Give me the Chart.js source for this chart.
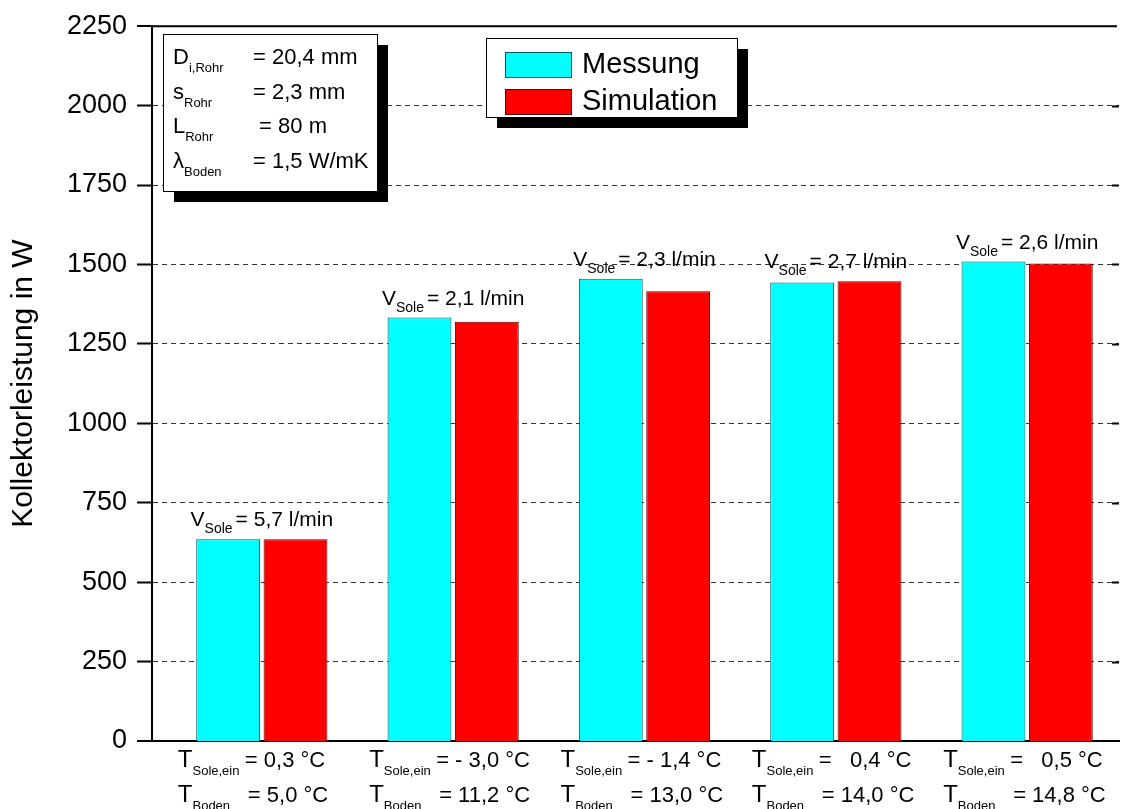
<!DOCTYPE html>
<html>
<head>
<meta charset="utf-8">
<script src="https://cdn.jsdelivr.net/npm/chart.js@4.4.0/dist/chart.umd.min.js"></script>
<style>
  html, body { margin: 0; padding: 0; background: #fff; }
  #wrap { width: 1121px; height: 809px; position: relative; }
</style>
</head>
<body>
<div id="wrap"><canvas id="bar-chart"></canvas></div>
<script>
var FONT = "'Liberation Sans', Arial, Helvetica, sans-serif";

// Messpunkte (Kategorien) und Werte in W
var kategorien = [0, 1, 2, 3, 4];
var messung = [635, 1333, 1455, 1443, 1509];
var simulation = [635, 1320, 1416, 1447, 1503];
var vSole = ['5,7', '2,1', '2,3', '2,7', '2,6'];
var tSoleEin = ['0,3', '- 3,0', '- 1,4', '  0,4', '  0,5'];
var tBoden = ['5,0', '11,2', '13,0', '14,0', '14,8'];
var yTicks = [0, 250, 500, 750, 1000, 1250, 1500, 1750, 2000, 2250];
var rohrDaten = [
  ['D', 'i,Rohr', '= 20,4 mm'],
  ['s', 'Rohr', '= 2,3 mm'],
  ['L', 'Rohr', ' = 80 m'],
  ['\u03bb', 'Boden', '= 1,5 W/mK']
];

function f(size) { return size + 'px ' + FONT; }

// Text mit Tiefstellung: [text, fontsize, dy, gapAfter, festesX]
function segmente(ctx, x, y, segs) {
  var cx = x;
  segs.forEach(function(s) {
    ctx.font = f(s[1]);
    if (s[4] !== undefined) cx = x + s[4];
    ctx.fillText(s[0], cx, y + (s[2] || 0));
    cx += ctx.measureText(s[0]).width + (s[3] || 0);
  });
}
function segBreite(ctx, segs) {
  var w = 0;
  segs.forEach(function(s) {
    ctx.font = f(s[1]);
    w += ctx.measureText(s[0]).width + (s[3] || 0);
  });
  return w;
}

function boxMitSchatten(ctx, x, y, w, h) {
  ctx.fillStyle = '#000';
  ctx.fillRect(x + 11, y + 11, w, h);
  ctx.fillStyle = '#fff';
  ctx.fillRect(x, y, w, h);
  ctx.strokeStyle = '#000';
  ctx.lineWidth = 1;
  ctx.strokeRect(x + 0.5, y + 0.5, w, h);
}

var extras = {
  id: 'extras',
  afterDraw: function(chart) {
    var ctx = chart.ctx;
    var area = chart.chartArea;
    var xs = chart.scales.x, ys = chart.scales.y;
    ctx.save();

    // Rahmen oben + Ticks rechts
    ctx.strokeStyle = '#000';
    ctx.lineWidth = 2;
    ctx.beginPath();
    ctx.moveTo(area.left - 1, area.top);
    ctx.lineTo(area.right - 2, area.top);
    yTicks.forEach(function(v) {
      if (v === 0 || v === 2250) return;
      var py = Math.round(ys.getPixelForValue(v)) + 0.5;
      ctx.moveTo(area.right - 7, py);
      ctx.lineTo(area.right, py);
    });
    ctx.stroke();

    ctx.fillStyle = '#000';
    ctx.textBaseline = 'alphabetic';
    ctx.textAlign = 'left';

    kategorien.forEach(function(k, i) {
      var cx = xs.getPixelForValue(k);
      // V_Sole ueber den Balken
      var top = ys.getPixelForValue(Math.max(messung[i], simulation[i]));
      var segs = [['V', 21, 0, 0], ['Sole', 14, 7, 3], ['= ' + vSole[i] + ' l/min', 21, 0, 0]];
      var w = segBreite(ctx, segs);
      segmente(ctx, cx - w / 2, top - 13, segs);

      // Temperaturen unter der Achse
      var tx = cx - 84;
      segmente(ctx, tx, 767, [['T', 24, 0, 0], ['Sole,ein', 13, 8, 0], ['= ' + tSoleEin[i] + ' \u00b0C', 22, 0, 0, 67]]);
      segmente(ctx, tx, 802, [['T', 24, 0, 0], ['Boden', 13, 8, 0], ['= ' + tBoden[i] + ' \u00b0C', 22, 0, 0, 70]]);
    });

    // Rohrdaten-Box
    boxMitSchatten(ctx, 163, 34, 214, 157);
    ctx.fillStyle = '#000';
    rohrDaten.forEach(function(r, j) {
      var by = 64 + j * 34.7;
      segmente(ctx, 173, by, [[r[0], 22, 0, 0], [r[1], 13, 8, 0], [r[2], 22, 0, 0, 80]]);
    });

    // Legende
    boxMitSchatten(ctx, 486, 38, 251, 79);
    chart.data.datasets.forEach(function(ds, j) {
      var sy = 52 + j * 37;
      ctx.fillStyle = ds.backgroundColor;
      ctx.fillRect(505, sy, 66, 25);
      ctx.strokeStyle = ds.borderColor;
      ctx.lineWidth = 1;
      ctx.strokeRect(505.5, sy + 0.5, 66, 25);
      ctx.fillStyle = '#000';
      ctx.font = f(29);
      ctx.textBaseline = 'middle';
      ctx.fillText(ds.label, 582, sy + 13);
      ctx.textBaseline = 'alphabetic';
    });
    ctx.restore();
  }
};

new Chart(document.getElementById('bar-chart'), {
  type: 'bar',
  data: {
    datasets: [{
      label: 'Messung',
      data: kategorien.map(function(k, i) { return {x: k, y: messung[i]}; }),
      backgroundColor: '#00ffff',
      borderColor: '#005a5a',
      borderWidth: 1
    }, {
      label: 'Simulation',
      data: kategorien.map(function(k, i) { return {x: k, y: simulation[i]}; }),
      backgroundColor: '#ff0000',
      borderColor: '#5a0000',
      borderWidth: 1
    }]
  },
  options: {
    responsive: true,
    maintainAspectRatio: false,
    animation: false,
    events: [],
    layout: { padding: { top: 23, right: 2, left: 0, bottom: 0 } },
    datasets: { bar: { categoryPercentage: 0.704, barPercentage: 0.948 } },
    plugins: { legend: { display: false }, tooltip: { enabled: false } },
    scales: {
      x: {
        type: 'linear',
        offset: false,
        bounds: 'data',
        min: -0.574,
        max: 4.48,
        afterBuildTicks: function(scale) {
          scale.ticks = kategorien.map(function(v) { return {value: v}; });
        },
        afterFit: function(scale) { scale.height = 68; },
        ticks: { display: false },
        grid: { display: false, offset: false },
        border: { display: true, color: '#000', width: 2 }
      },
      y: {
        min: 0,
        max: 2250,
        afterBuildTicks: function(scale) {
          scale.ticks = yTicks.map(function(v) { return {value: v}; });
        },
        afterFit: function(scale) { scale.width = 152; },
        ticks: {
          color: '#000',
          padding: 10,
          font: { family: FONT, size: 27 },
          callback: function(v) { return String(v); }
        },
        grid: {
          color: '#333',
          lineWidth: function(c) { return (c.tick && (c.tick.value === 0 || c.tick.value === 2250)) ? 0 : 1; },
          drawTicks: true,
          tickLength: 15,
          tickWidth: 2,
          tickColor: '#000'
        },
        border: { display: true, color: '#000', width: 2, dash: [5, 4] },
        title: {
          display: true,
          text: 'Kollektorleistung in W',
          color: '#000',
          font: { family: FONT, size: 30 },
          padding: { top: 6, bottom: 0 }
        }
      }
    }
  },
  plugins: [extras]
});
</script>
</body>
</html>
